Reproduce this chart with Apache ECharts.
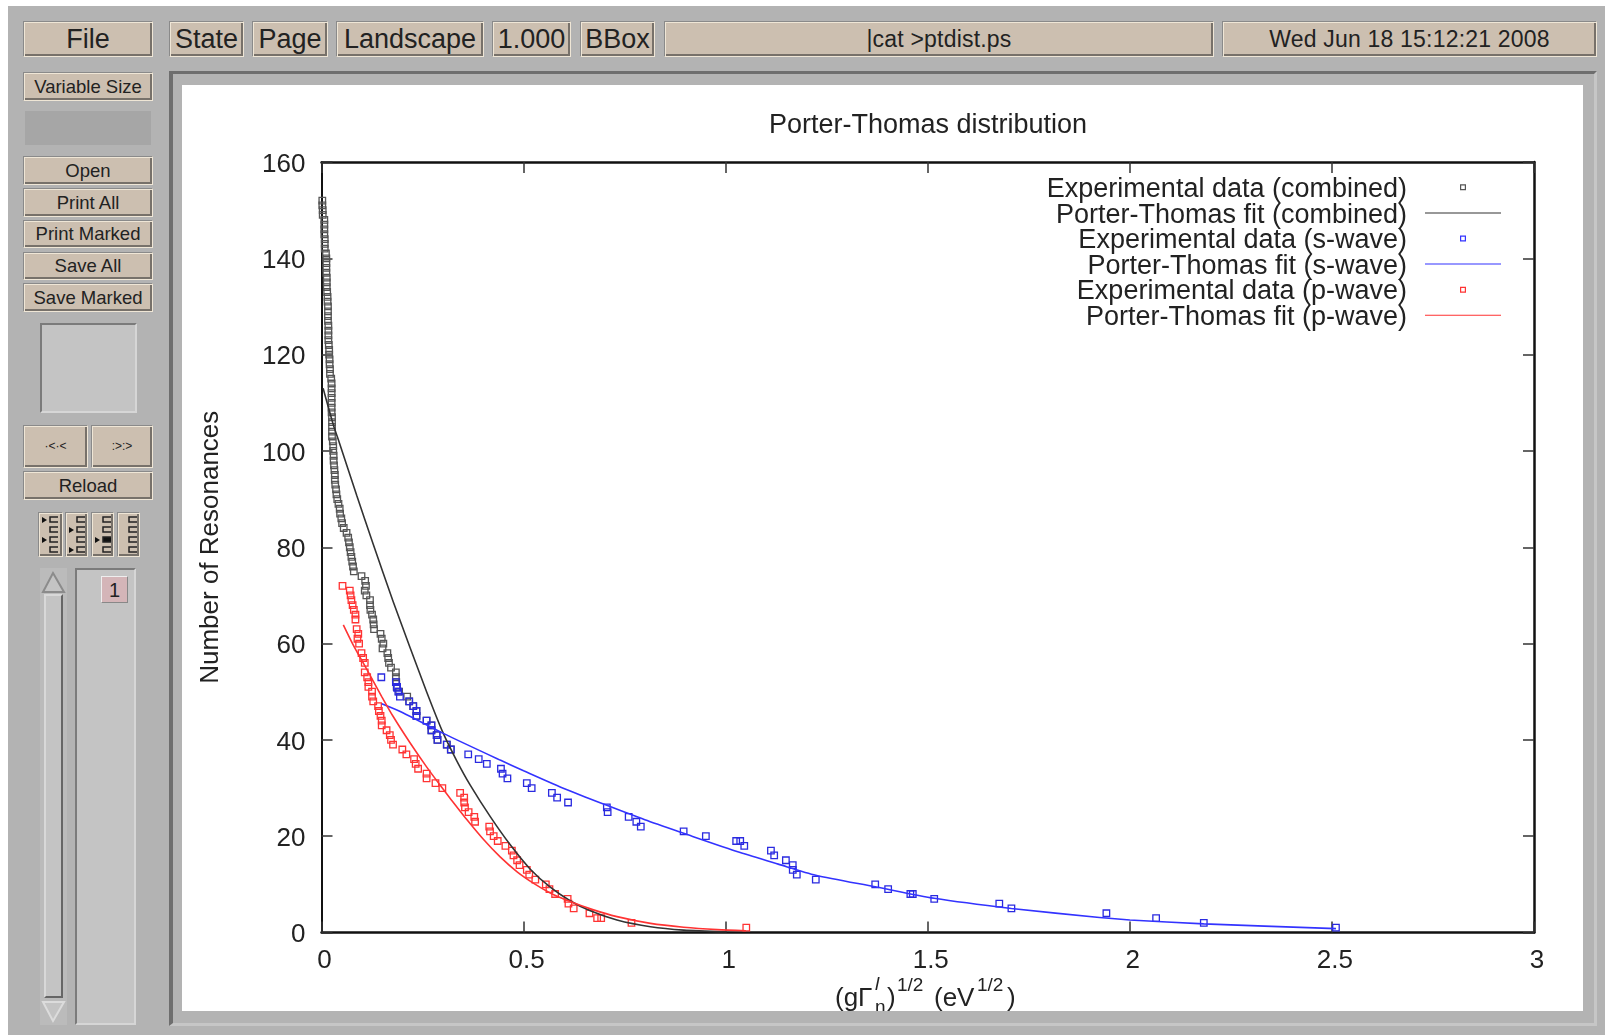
<!DOCTYPE html>
<html>
<head>
<meta charset="utf-8">
<title>Porter-Thomas distribution</title>
<script src="https://cdn.jsdelivr.net/npm/echarts@6/dist/echarts.min.js"></script>
<style>
html, body { margin: 0; padding: 0; background: #fff; width: 1605px; height: 1035px; overflow: hidden; }
#gv { position: absolute; left: 8px; top: 6px; width: 1597px; height: 1029px; background: #b3b3b3; }
#page { position: absolute; left: 0; top: 0; width: 1605px; height: 1035px; filter: blur(0.55px); font-family: "Liberation Sans", sans-serif; color: #222; }
.btn { position: absolute; box-sizing: border-box; background: #ccbfb0; text-align: center; white-space: nowrap;
  border: 1px solid; border-color: #8a8a8a #efe6d6 #efe6d6 #8a8a8a; box-shadow: inset 1px 1px 0 #efe6d6, inset -2px -2px 0 #77716a; }
.top { top: 21px; height: 36px; line-height: 34px; font-size: 27px; }
.top.small { font-size: 23px; letter-spacing: 0.2px; }
.side { left: 23px; width: 130px; font-size: 18.5px; }
.sunk { position: absolute; box-sizing: border-box; background: #c4c4c4; border: 2px solid; border-color: #7b7b7b #d6d6d6 #d6d6d6 #7b7b7b; }
#frame { position: absolute; box-sizing: border-box; left: 169px; top: 71px; width: 1428px; height: 955px;
  border: 3px solid; border-color: #6e6e6e #c6c6c6 #c6c6c6 #6e6e6e; border-left-width: 4px; }
#main { position: absolute; left: 182px; top: 85px; width: 1401px; height: 926px; background: #fff; }
svg { position: absolute; }
</style>
</head>
<body>
<div id="page">
  <div id="gv"></div>

  <div class="btn top" style="left:23px;width:130px">File</div>
  <div class="btn top" style="left:169px;width:75px">State</div>
  <div class="btn top" style="left:252px;width:76px">Page</div>
  <div class="btn top" style="left:336px;width:148px">Landscape</div>
  <div class="btn top" style="left:492px;width:79px">1.000</div>
  <div class="btn top" style="left:580px;width:75px">BBox</div>
  <div class="btn top small" style="left:664px;width:550px">|cat &gt;ptdist.ps</div>
  <div class="btn top small" style="left:1222px;width:375px">Wed Jun 18 15:12:21 2008</div>

  <div class="btn side" style="top:72px;height:29px;line-height:27px">Variable Size</div>
  <div style="position:absolute;left:25px;top:111px;width:126px;height:34px;background:#a6a6a6"></div>
  <div class="btn side" style="top:156px;height:29px;line-height:27px">Open</div>
  <div class="btn side" style="top:188px;height:29px;line-height:27px">Print All</div>
  <div class="btn side" style="top:220px;height:28px;line-height:26px">Print Marked</div>
  <div class="btn side" style="top:252px;height:28px;line-height:26px">Save All</div>
  <div class="btn side" style="top:283px;height:29px;line-height:27px">Save Marked</div>
  <div class="sunk" style="left:40px;top:323px;width:97px;height:90px"></div>

  <div class="btn" style="left:23px;top:425px;width:65px;height:43px;line-height:41px;font-size:12px">&#183;&lt;&#183;&lt;</div>
  <div class="btn" style="left:91px;top:425px;width:62px;height:43px;line-height:41px;font-size:12px">:&gt;:&gt;</div>
  <div class="btn side" style="top:471px;height:29px;line-height:27px">Reload</div>

  <div class="btn mark" style="left:38px;top:512px;width:25px;height:45px" data-arrows="1,0,1,0" data-fill="0,0,0,0"></div>
  <div class="btn mark" style="left:65px;top:512px;width:23px;height:45px" data-arrows="0,1,0,1" data-fill="0,0,0,0"></div>
  <div class="btn mark" style="left:91px;top:512px;width:23px;height:45px" data-arrows="0,0,1,0" data-fill="0,0,1,0"></div>
  <div class="btn mark" style="left:117px;top:512px;width:23px;height:45px" data-arrows="0,0,0,0" data-fill="0,0,0,0"></div>

  <div style="position:absolute;left:40px;top:568px;width:27px;height:457px;background:#bbb"></div>
  <div style="position:absolute;box-sizing:border-box;left:44px;top:594px;width:19px;height:404px;background:#c4c4c4;border:2px solid;border-color:#d8d8d8 #666 #666 #d8d8d8"></div>
  <svg style="left:40px;top:570px" width="27" height="24"><polygon points="13,3 24,22 3,22" fill="#c4c4c4" stroke="#8b8b8b" stroke-width="2"/></svg>
  <svg style="left:40px;top:1000px" width="27" height="24"><polygon points="13,21 24,2 3,2" fill="#c4c4c4" stroke="#dcdcdc" stroke-width="2"/></svg>

  <div class="sunk" style="left:75px;top:568px;width:61px;height:457px"></div>
  <div style="position:absolute;box-sizing:border-box;left:101px;top:576px;width:27px;height:27px;line-height:26px;text-align:center;font-size:20px;background:#d4b5b8;border:1px solid;border-color:#eee #888 #888 #eee">1</div>

  <div id="frame"></div>
  <div id="main"></div>
</div>

<script>
// rank number on y
const combinedX = [0.002,0.002,0.003,0.003,0.007,0.007,0.007,0.007,0.008,0.008,0.008,0.011,0.012,0.012,0.012,0.012,0.013,0.013,0.013,0.014,0.015,0.015,0.016,0.016,0.016,0.016,0.017,0.017,0.017,0.017,0.018,0.019,0.019,0.020,0.020,0.021,0.021,0.024,0.025,0.025,0.025,0.025,0.025,0.025,0.025,0.026,0.026,0.026,0.026,0.026,0.028,0.029,0.029,0.030,0.030,0.031,0.032,0.033,0.033,0.034,0.036,0.037,0.039,0.042,0.045,0.046,0.049,0.051,0.055,0.062,0.066,0.068,0.070,0.072,0.074,0.076,0.078,0.080,0.099,0.108,0.110,0.107,0.111,0.120,0.120,0.121,0.125,0.128,0.129,0.130,0.146,0.149,0.153,0.151,0.163,0.165,0.167,0.172,0.184,0.184,0.185,0.186,0.192,0.212,0.217,0.227,0.235,0.235,0.260,0.272,0.272,0.285,0.287,0.310,0.320];
const combinedY = [152,151,150,149,148,147,146,145,144,143,142,141,140,139,138,137,136,135,134,133,132,131,130,129,128,127,126,125,124,123,122,121,120,119,118,117,116,115,114,113,112,111,110,109,108,107,106,105,104,103,102,101,100,99,98,97,96,95,94,93,92,91,90,89,88,87,86,85,84,83,82,81,80,79,78,77,76,75,74,73,72,71,70,69,68,67,66,65,64,63,62,61,60,59,58,57,56,55,54,53,52,51,50,49,48,47,46,45,44,43,42,41,40,39,38];
const combinedFitX = [0.004,0.029,0.045,0.087,0.128,0.177,0.219,0.260,0.300,0.335,0.368,0.418,0.467,0.516,0.566,0.615,0.665,0.731,0.814,0.896,1.0];
const combinedFitY = [113,105.5,101.5,90.8,80.6,68.8,59.2,50,41.6,35.6,30.6,24,18.2,13.2,9.4,6.6,4.5,2.6,1.2,0.5,0.15];

const sWaveX = [0.148,0.184,0.187,0.187,0.190,0.194,0.217,0.227,0.235,0.235,0.260,0.272,0.272,0.285,0.287,0.310,0.320,0.363,0.389,0.409,0.444,0.448,0.460,0.508,0.520,0.570,0.583,0.610,0.706,0.708,0.760,0.779,0.790,0.896,0.951,1.026,1.036,1.046,1.112,1.120,1.149,1.166,1.166,1.176,1.223,1.370,1.402,1.457,1.463,1.516,1.677,1.707,1.942,2.065,2.183,2.510];
const sWaveY = [53,52,51,50.8,50,49,48,47,46,45,44,43,42,41,40,39,38,37,36,35,34,33,32,31,30,29,28,27,26,25,24,23,22,21,20,19,19,18,17,16,15,14,13,12,11,10,9,8,8,7,6,5,4,3,2,1];
const sWaveFitX = [0.149,0.200,0.300,0.442,0.500,0.606,0.706,0.800,0.896,1.036,1.130,1.223,1.370,1.516,1.707,1.925,2.000,2.183,2.510];
const sWaveFitY = [47.5,45.7,41.4,35.8,33.6,29.7,26.4,23.4,20.6,16.6,14.2,11.9,9.5,7.1,5,3.1,2.6,1.8,0.8];

const pWaveX = [0.052,0.070,0.072,0.074,0.077,0.080,0.084,0.084,0.087,0.091,0.089,0.093,0.099,0.103,0.107,0.107,0.113,0.116,0.116,0.125,0.125,0.128,0.140,0.142,0.146,0.149,0.149,0.161,0.169,0.172,0.177,0.200,0.210,0.229,0.233,0.239,0.260,0.260,0.282,0.299,0.343,0.353,0.353,0.355,0.364,0.378,0.380,0.415,0.417,0.426,0.436,0.455,0.471,0.475,0.484,0.490,0.508,0.514,0.529,0.555,0.564,0.578,0.609,0.611,0.624,0.663,0.682,0.692,0.767,1.051];
const pWaveY = [72,71,70,69,68,67,66,65,63,62,61,60,58,57,56,54,53,52,51,50,49,48,47,46,45,44,43,42,41,40,39,38,37,36,35,34,33,32,31,30,29,28,27,26,25,24,23,22,21,20,19,18,17,16,15,14,13,12,11,10,9,8,7,6,5,4,3,3,2,1];
const pWaveFitX = [0.054,0.078,0.107,0.128,0.149,0.177,0.219,0.260,0.297,0.318,0.360,0.401,0.442,0.484,0.525,0.566,0.607,0.673,0.731,0.814,0.896,0.979,1.050];
const pWaveFitY = [63.9,59.8,55.4,52.2,49,44.9,39.4,34.4,30.2,27.9,23.4,19.3,15.7,12.6,10.2,8.2,6.7,4.7,3.3,1.9,1.1,0.6,0.35];

const xTicks = { min: 0, max: 3, interval: 0.5 };
const yTicks = { min: 0, max: 160, interval: 20 };
const font = '"Liberation Sans", sans-serif';

const zip = (xs, ys) => xs.map((x, i) => [x, ys[i]]);

// little page-mark buttons on the left
document.querySelectorAll('.mark').forEach(b => {
	const arrows = b.dataset.arrows.split(',');
	const fills = b.dataset.fill.split(',');
	let s = '<svg width="' + (b.offsetWidth - 4) + '" height="40" style="left:1px;top:1px">';
	for (let r = 0; r < 4; r++) {
		const y = 3 + r * 10;
		s += '<path d="M18 ' + y + 'H10V' + (y + 5) + 'H18" stroke="#222" stroke-width="1.5" fill="' + (fills[r] == 1 ? '#111' : 'none') + '"/>';
		if (arrows[r] == 1) s += '<path d="M2 ' + y + 'l5 3l-5 3z" fill="#111"/>';
	}
	b.innerHTML = s + '</svg>';
});

const frameAxis = w => ({ min: 0, axisLine: { show: true, onZero: false, lineStyle: { color: '#111', width: w } }, axisTick: { show: true, inside: true, length: 11, lineStyle: { color: '#333', width: 1.5 } }, splitLine: { show: false } });

// legend keys, the empty moves keep the key box as wide as the line
const lineIcon = 'path://M0 0ZM76 14ZM0 4.3H76V5.3H0Z';
const boxIcon = 'path://M0 0ZM76 14ZM35 1.8H41V7.8H35ZM36.2 3V6.6H39.8V3Z';

const legendData = [
	{ name: 'Experimental data (combined)', icon: boxIcon, itemStyle: { color: '#555', borderWidth: 0 } },
	{ name: 'Porter-Thomas fit (combined)', icon: lineIcon, itemStyle: { color: '#333', borderWidth: 0 } },
	{ name: 'Experimental data (s-wave)', icon: boxIcon, itemStyle: { color: '#3333ff', borderWidth: 0 } },
	{ name: 'Porter-Thomas fit (s-wave)', icon: lineIcon, itemStyle: { color: '#3333ff', borderWidth: 0 } },
	{ name: 'Experimental data (p-wave)', icon: boxIcon, itemStyle: { color: '#ff3333', borderWidth: 0 } },
	{ name: 'Porter-Thomas fit (p-wave)', icon: lineIcon, itemStyle: { color: '#ff3333', borderWidth: 0 } }
];

const points = (name, xs, ys, color) => ({
	name, type: 'scatter', data: zip(xs, ys), symbol: 'rect', symbolSize: 6.5, clip: false,
	itemStyle: { color: 'none', borderColor: color, borderWidth: 1.3, opacity: 1 },
	emphasis: { disabled: true }
});
const fit = (name, xs, ys, color) => ({
	name, type: 'line', data: zip(xs, ys), showSymbol: false, symbol: 'none', smooth: 0.25,
	lineStyle: { color, width: 1.6 }, itemStyle: { color },
	emphasis: { disabled: true }
});

const mathText = (x, y, text, size, extra) => ({
	type: 'text', x, y, silent: true,
	style: Object.assign({ text, fontSize: size, fontFamily: font, fill: '#222', verticalAlign: 'middle' }, extra || {})
});

const myChart = echarts.init(document.getElementById('main'));
myChart.setOption({
	animation: false,
	backgroundColor: '#fff',
	title: {
		text: 'Porter-Thomas distribution',
		left: 741, top: 22, textAlign: 'center',
		textStyle: { fontFamily: font, fontSize: 27, fontWeight: 'normal', color: '#222' }
	},
	grid: { left: 139.5, right: 49, top: 77, bottom: 78.5, outerBoundsMode: 'none' },
	legend: {
		orient: 'vertical', align: 'right', right: 82, top: 91, padding: 0,
		itemWidth: 76, itemHeight: 14, itemGap: -1.4, selectedMode: false,
		textStyle: { fontFamily: font, fontSize: 27, color: '#222', padding: [0, 13, 0, 0] },
		data: legendData
	},
	xAxis: [
		Object.assign({}, frameAxis(2.5), xTicks, { type: 'value', position: 'bottom',
			axisLabel: { show: true, fontFamily: font, fontSize: 26, color: '#222', margin: 15, padding: [0, 0, 0, 6] } }),
		Object.assign({}, frameAxis(2.5), xTicks, { type: 'value', position: 'top', axisLabel: { show: false } })
	],
	yAxis: [
		Object.assign({}, frameAxis(2), yTicks, { type: 'value', position: 'left',
			name: 'Number of Resonances', nameLocation: 'middle', nameGap: 98,
			nameTextStyle: { fontFamily: font, fontSize: 26, color: '#222' },
			axisLabel: { show: true, fontFamily: font, fontSize: 26, color: '#222', margin: 16, verticalAlign: 'top', padding: [-10.4, 0, 0, 0] } }),
		Object.assign({}, frameAxis(2.5), yTicks, { type: 'value', position: 'right', axisLabel: { show: false } })
	],
	graphic: [
		mathText(653, 914, '(g\u0393', 26),
		mathText(693, 900, 'l', 19, { fontStyle: 'italic' }),
		mathText(693, 923, 'n', 19),
		mathText(705, 914, ')', 26),
		mathText(715, 901, '1/2', 19),
		mathText(752, 914, '(eV', 26),
		mathText(795, 901, '1/2', 19),
		mathText(825, 914, ')', 26)
	],
	series: [
		points('Experimental data (combined)', combinedX, combinedY, '#555'),
		fit('Porter-Thomas fit (combined)', combinedFitX, combinedFitY, '#333'),
		points('Experimental data (s-wave)', sWaveX, sWaveY, '#2a2ae0'),
		fit('Porter-Thomas fit (s-wave)', sWaveFitX, sWaveFitY, '#3333ff'),
		points('Experimental data (p-wave)', pWaveX, pWaveY, '#ff3333'),
		fit('Porter-Thomas fit (p-wave)', pWaveFitX, pWaveFitY, '#ff3333')
	]
});
</script>
</body>
</html>
